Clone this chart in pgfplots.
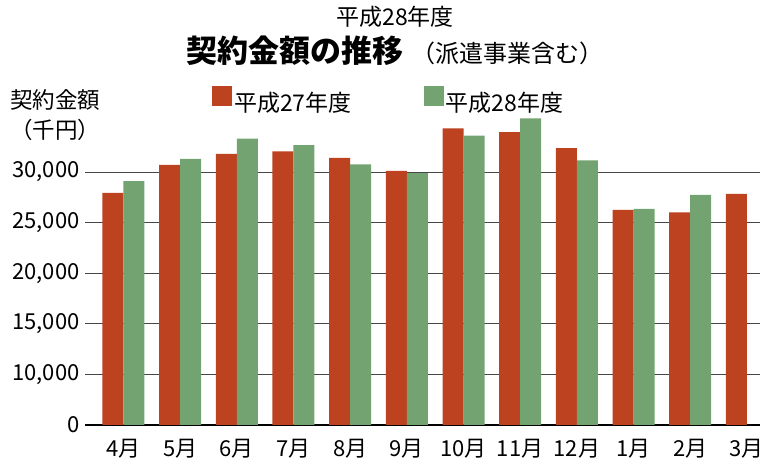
\documentclass[border=0pt]{standalone}
\usepackage{pgfplots}
\pgfplotsset{compat=1.18}
\usepackage{pgfplotstable}
\usepackage{fontspec}
\setmainfont{Noto Sans CJK JP}
\definecolor{cred}{RGB}{188,66,32}
\definecolor{cgreen}{RGB}{114,163,112}
\definecolor{cgrid}{RGB}{70,70,70}
\pgfplotstableread{
m red green
0 27950 29100
1 30700 31300
2 31800 33300
3 32050 32650
4 31400 30750
5 30100 29900
6 34300 33600
7 33950 35300
8 32350 31150
9 26250 26350
10 26000 27750
11 27850 nan
}\datatable
\begin{document}
\begin{tikzpicture}
\useasboundingbox (0,0) rectangle (760pt,468pt);
\begin{axis}[
  at={(85pt,43pt)}, anchor=south west,
  scale only axis, width=675pt, height=313.7pt,
  xmin=-0.679, xmax=11.232, ymin=0, ymax=31000,
  ybar=0pt, bar width=21pt,
  axis x line*=bottom, axis y line*=left,
  x axis line style={black, line width=1.4pt, -},
  y axis line style={draw=none},
  xtick={0,...,11}, xticklabels={4月,5月,6月,7月,8月,9月,10月,11月,12月,1月,2月,3月},
  x tick style={draw=none},
  xticklabel style={font=\fontsize{22}{22}\selectfont, yshift=-6pt},
  scaled y ticks=false,
  ytick={0,5000,10000,15000,20000,25000},
  yticklabels={0,{10,000},{15,000},{20,000},{25,000},{30,000}},
  yticklabel style={font=\fontsize{22}{22}\selectfont, anchor=east, xshift=-2pt},
  y tick style={draw=none},
  ymajorgrids, grid style={cgrid, line width=0.8pt},
  /pgf/number format/assume math mode=true,
  legend columns=2,
  legend style={at={(0.188,1.035)}, anchor=west, draw=none, fill=none, inner sep=0pt,
    font=\fontsize{23}{23}\selectfont,
    /tikz/every even column/.append style={column sep=70pt},
    /tikz/every odd column/.append style={column sep=0pt}},
  legend image code/.code={\fill[#1] (0pt,-3pt) rectangle (20pt,17pt);},
]
\addplot[fill=cred, draw=none] table[x=m, y expr=\thisrow{red}-5000] {\datatable};
\addplot[fill=cgreen, draw=none] table[x=m, y expr=\thisrow{green}-5000] {\datatable};
\legend{平成27年度,平成28年度}
\end{axis}
\node at (395pt,451pt) {\fontsize{23}{23}\selectfont 平成28年度};
\node at (395pt,417pt) {\fontsize{31}{31}\selectfont\bfseries 契約金額の推移\ \fontsize{24}{24}\selectfont\mdseries （派遣事業含む）};
\node at (55pt,368pt) {\fontsize{22.5}{22.5}\selectfont 契約金額};
\node at (55pt,338pt) {\fontsize{22.5}{22.5}\selectfont （千円）};
\end{tikzpicture}
\end{document}
